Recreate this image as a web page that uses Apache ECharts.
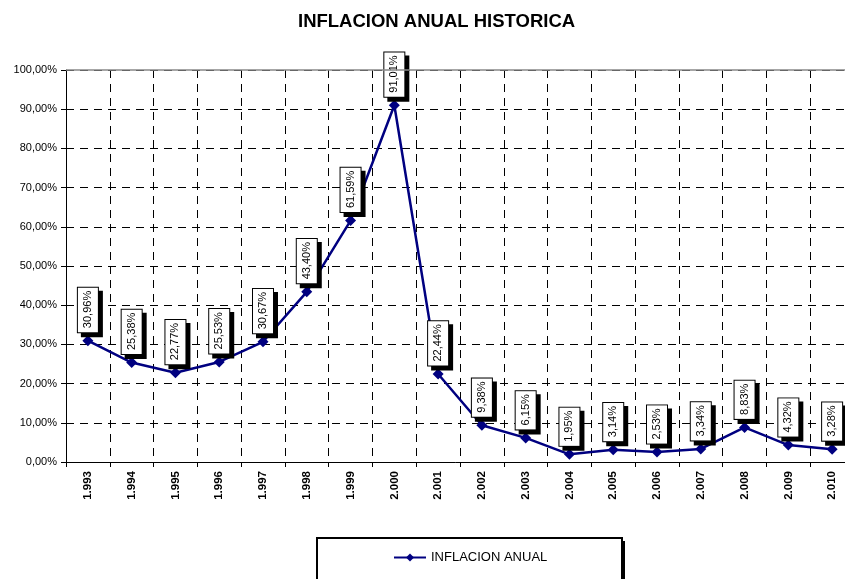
<!DOCTYPE html>
<html><head><meta charset="utf-8">
<script src="https://cdn.jsdelivr.net/npm/echarts@6/dist/echarts.min.js"></script>
<style>html,body{margin:0;padding:0;background:#fff}#c{width:845px;height:579px}</style>
</head><body><div id="c"></div>
<script>
var years = ['1.993','1.994','1.995','1.996','1.997','1.998','1.999','2.000','2.001','2.002','2.003','2.004','2.005','2.006','2.007','2.008','2.009','2.010'];
var inflacion = [30.96,25.38,22.77,25.53,30.67,43.40,61.59,91.01,22.44,9.38,6.15,1.95,3.14,2.53,3.34,8.83,4.32,3.28];
var yTicks = {min:0, max:100, interval:10};
var fmt = function(v){return v.toFixed(2).replace('.',',')+'%';};
var F = 'Liberation Sans, Arial, sans-serif';
var chart = echarts.init(document.getElementById('c'));
chart.setOption({
  animation:false,
  title:{text:'INFLACION ANUAL HISTORICA',left:298,top:12,padding:0,textStyle:{fontFamily:F,fontSize:18.5,fontWeight:'bold',color:'#000'}},
  grid:{left:66,width:788,top:70,height:392,containLabel:false,outerBoundsMode:'none'},
  graphic:[
    {type:'rect',shape:{x:320,y:541,width:305,height:60},style:{fill:'#000'},z:0},
    {type:'rect',shape:{x:317,y:538,width:305,height:60},style:{fill:'#fff',stroke:'#000',lineWidth:2},z:1}
  ],
  legend:{top:551,left:393,padding:0,itemWidth:32,itemHeight:10,itemGap:5,textStyle:{fontFamily:F,fontSize:13,color:'#000'},data:['INFLACION ANUAL'],z:10},
  xAxis:{type:'category',data:years,boundaryGap:true,
    axisLine:{lineStyle:{color:'#000',width:1}},
    axisTick:{show:true,length:5,lineStyle:{color:'#000'}},
    splitLine:{show:true,lineStyle:{color:'#000',type:[8,6],width:1}},
    axisLabel:{rotate:90,margin:9,fontFamily:F,fontSize:11.5,fontWeight:'bold',color:'#000',interval:0}},
  yAxis:{type:'value',min:yTicks.min,max:yTicks.max,interval:yTicks.interval,
    axisLine:{show:true,lineStyle:{color:'#000',width:1}},
    axisTick:{show:true,length:5,lineStyle:{color:'#000'}},
    splitLine:{show:true,lineStyle:{color:'#000',type:[8,6],width:1}},
    axisLabel:{formatter:fmt,margin:9,fontFamily:F,fontSize:11,color:'#000'}},
  series:[{name:'INFLACION ANUAL',type:'line',data:inflacion,
    symbol:'diamond',symbolSize:11,showAllSymbol:true,
    lineStyle:{color:'#000080',width:2.5},itemStyle:{color:'#000080'},
    label:{show:true,position:'top',distance:3,rotate:90,align:'left',verticalAlign:'middle',
      formatter:function(p){return fmt(p.value);},
      fontFamily:F,fontSize:11,lineHeight:13,color:'#000',backgroundColor:'#fff',borderColor:'#000',borderWidth:1,
      padding:[4,3,3,4],shadowColor:'#000',shadowOffsetX:4,shadowOffsetY:4,shadowBlur:0},
    markLine:{silent:true,symbol:'none',label:{show:false},lineStyle:{color:'#888',type:'solid',width:1.5},data:[{yAxis:100}]}
  }]
});
</script></body></html>
